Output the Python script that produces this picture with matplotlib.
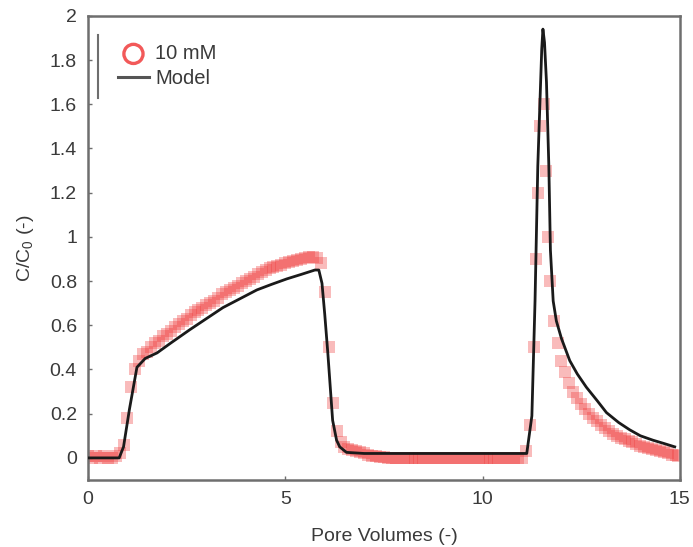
"""Breakthrough curve: measured 10 mM data vs. model."""

import matplotlib

matplotlib.use("Agg")
import matplotlib.pyplot as plt
from matplotlib.ticker import FuncFormatter

pv_data = [
    0.0, 0.1, 0.2, 0.3, 0.4, 0.5, 0.6, 0.7, 0.8, 0.9,
    1.0, 1.1, 1.2, 1.3, 1.4, 1.5, 1.6, 1.7, 1.8, 1.9,
    2.0, 2.1, 2.2, 2.3, 2.4, 2.5, 2.6, 2.7, 2.8, 2.9,
    3.0, 3.1, 3.2, 3.3, 3.4, 3.5, 3.6, 3.7, 3.8, 3.9,
    4.0, 4.1, 4.2, 4.3, 4.4, 4.5, 4.6, 4.7, 4.8, 4.9,
    5.0, 5.1, 5.2, 5.3, 5.4, 5.5, 5.6, 5.7, 5.8, 5.9,
    6.0, 6.1, 6.2, 6.3, 6.4, 6.5, 6.6, 6.7, 6.8, 6.9,
    7.0, 7.1, 7.2, 7.3, 7.4, 7.5, 7.6, 7.7, 7.8, 7.9,
    8.0, 8.1, 8.2, 8.3, 8.4, 8.5, 8.6, 8.7, 8.8, 8.9,
    9.0, 9.1, 9.2, 9.3, 9.4, 9.5, 9.6, 9.7, 9.8, 9.9,
    10.0, 10.1, 10.2, 10.3, 10.4, 10.5, 10.6, 10.7, 10.8, 10.9,
    11.0, 11.1, 11.2, 11.3, 11.35, 11.4, 11.45, 11.55, 11.6, 11.65,
    11.7, 11.8, 11.9, 12.0, 12.1, 12.2, 12.3, 12.4, 12.5, 12.6,
    12.7, 12.8, 12.9, 13.0, 13.1, 13.2, 13.3, 13.4, 13.5, 13.6,
    13.7, 13.8, 13.9, 14.0, 14.1, 14.2, 14.3, 14.4, 14.5, 14.6,
    14.7, 14.8, 14.9, 14.95,
]
c_data = [
    0.01, 0.00, 0.01, 0.00, 0.01, 0.00, 0.00, 0.01, 0.02, 0.06,
    0.18, 0.32, 0.40, 0.44, 0.47, 0.48, 0.50, 0.52, 0.53, 0.55,
    0.56, 0.575, 0.59, 0.605, 0.62, 0.63, 0.645, 0.66, 0.67, 0.68,
    0.69, 0.70, 0.71, 0.725, 0.74, 0.75, 0.76, 0.77, 0.78, 0.79,
    0.80, 0.81, 0.82, 0.83, 0.84, 0.85, 0.86, 0.865, 0.87, 0.875,
    0.88, 0.885, 0.89, 0.895, 0.90, 0.905, 0.91, 0.91, 0.905, 0.88,
    0.75, 0.50, 0.25, 0.12, 0.07, 0.05, 0.04, 0.035, 0.03, 0.025,
    0.02, 0.015, 0.01, 0.008, 0.005, 0.003, 0.00, 0.00, 0.00, 0.00,
    0.00, 0.00, 0.00, 0.00, 0.00, 0.00, 0.00, 0.00, 0.00, 0.00,
    0.00, 0.00, 0.00, 0.00, 0.00, 0.00, 0.00, 0.00, 0.00, 0.00,
    0.00, 0.00, 0.00, 0.00, 0.00, 0.00, 0.00, 0.00, 0.00, 0.00,
    0.00, 0.03, 0.15, 0.50, 0.90, 1.20, 1.50, 1.60, 1.30, 1.00,
    0.80, 0.62, 0.52, 0.44, 0.39, 0.34, 0.30, 0.27, 0.245, 0.22,
    0.20, 0.18, 0.165, 0.15, 0.135, 0.12, 0.11, 0.10, 0.092, 0.085,
    0.078, 0.07, 0.062, 0.055, 0.05, 0.045, 0.04, 0.035, 0.03, 0.025,
    0.02, 0.015, 0.012, 0.01,
]

# model curve
pv_model = [
    0.0, 0.79, 0.9, 1.05, 1.24, 1.45, 1.75, 2.1, 2.58, 3.0,
    3.42, 3.85, 4.28, 4.65, 5.04, 5.4, 5.75, 5.85, 5.93, 6.0,
    6.08, 6.14, 6.2, 6.3, 6.38, 6.55, 7.0, 8.0, 9.0, 10.0,
    11.12, 11.25, 11.33, 11.4, 11.5, 11.53, 11.57, 11.62, 11.68, 11.72,
    11.79, 11.87, 12.0, 12.21, 12.4, 12.63, 12.9, 13.14, 13.45, 13.73,
    14.0, 14.32, 14.6, 14.87,
]
c_model = [
    0.0, 0.0, 0.05, 0.22, 0.41, 0.45, 0.475, 0.52, 0.58, 0.63,
    0.68, 0.72, 0.76, 0.785, 0.81, 0.83, 0.85, 0.85, 0.79, 0.65,
    0.47, 0.32, 0.17, 0.08, 0.05, 0.025, 0.02, 0.02, 0.02, 0.02,
    0.02, 0.19, 0.71, 1.32, 1.85, 1.94, 1.88, 1.70, 1.32, 0.94,
    0.71, 0.62, 0.54, 0.44, 0.38, 0.32, 0.26, 0.205, 0.16, 0.127,
    0.10, 0.08, 0.065, 0.05,
]

x_ticks = [0, 5, 10, 15]
y_ticks = [0, 0.2, 0.4, 0.6, 0.8, 1.0, 1.2, 1.4, 1.6, 1.8, 2.0]

plt.rcParams.update(
    {
        "font.family": ["Liberation Sans", "DejaVu Sans"],
        "font.size": 14,
        "mathtext.fontset": "custom",
        "mathtext.rm": "Liberation Sans",
        "mathtext.it": "Liberation Sans",
    }
)

AXIS_GREY = "#6e6e6e"
TEXT_GREY = "#3a3a3a"
DATA_RED = "#f03c3c"

fig = plt.figure(figsize=(6.93, 5.47), dpi=100)
ax = fig.add_axes([0.127, 0.1225, 0.854, 0.8485])

ax.scatter(pv_data, c_data, marker="s", s=75, color=DATA_RED, alpha=0.35,
           linewidths=0, zorder=2)
ax.plot(pv_model, c_model, color="#1a1a1a", linewidth=2.0, zorder=3)

ax.set_xlim(0, 15)
ax.set_ylim(-0.1, 2.0)
ax.set_xticks(x_ticks)
ax.set_yticks(y_ticks)
ax.yaxis.set_major_formatter(FuncFormatter(lambda v, _: f"{v:g}"))
ax.tick_params(direction="in", length=3, width=1, color=AXIS_GREY,
               labelcolor=TEXT_GREY, pad=8)
for spine in ax.spines.values():
    spine.set_color(AXIS_GREY)
    spine.set_linewidth(1.8)

ax.set_xlabel("Pore Volumes (-)", color=TEXT_GREY, labelpad=14)
ax.set_ylabel("C/C$_0$ (-)", color=TEXT_GREY, labelpad=10)

# legend
legend_marker = ax.scatter([], [], marker="o", s=190, facecolors="none",
                           edgecolors=DATA_RED, linewidths=2.4, alpha=0.85)
legend_line, = ax.plot([], [], color="#555555", linewidth=2.2)
ax.legend([legend_marker, legend_line], ["10 mM", "Model"], loc="upper left",
          bbox_to_anchor=(0.03, 0.965), frameon=False, handlelength=1.55,
          handletextpad=0.3, labelspacing=0.3, borderaxespad=0.2,
          fontsize=14.5, labelcolor=TEXT_GREY)
ax.plot([0.017, 0.017], [0.823, 0.959], transform=ax.transAxes,
        color=AXIS_GREY, linewidth=1.5, clip_on=False)

fig.savefig("out.png", dpi=100)
